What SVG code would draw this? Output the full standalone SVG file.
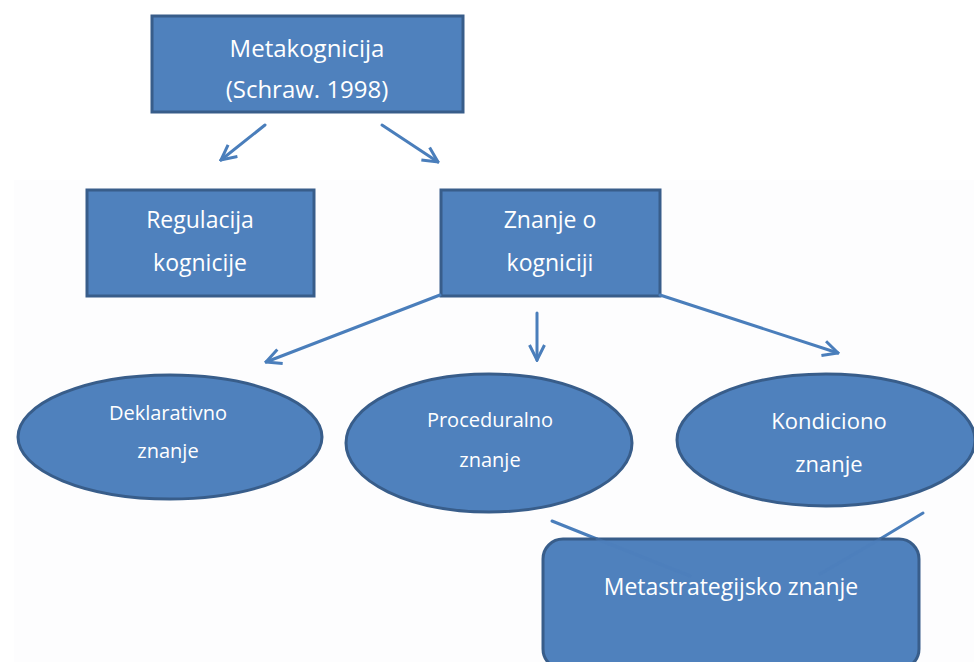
<svg xmlns="http://www.w3.org/2000/svg" width="974" height="662" viewBox="0 0 974 662">
<defs>
<style>
.n{fill:#4F81BD;stroke:#385D8A;stroke-width:3}
.t{fill:#ffffff;font-family:"Open Sans","Noto Sans","Liberation Sans",sans-serif;text-anchor:middle}
.c{stroke:#4A7EBB;stroke-width:3;fill:none;stroke-linecap:round}
</style>
<marker id="ah" viewBox="0 0 12 12" refX="11" refY="6" markerWidth="6" markerHeight="6" orient="auto" markerUnits="strokeWidth">
<path d="M1,1 L11,6 L1,11" fill="none" stroke="#4A7EBB" stroke-width="2"/>
</marker>
</defs>
<rect x="0" y="0" width="974" height="662" fill="#ffffff"/>
<rect x="14" y="180" width="960" height="482" fill="#fdfdfe"/>
<g id="metakognicija">
<rect class="n" x="152" y="16" width="311" height="96"/>
<text class="t" x="307" y="57" font-size="24">Metakognicija</text>
<text class="t" x="307" y="98" font-size="24">(Schraw. 1998)</text>
</g>
<g id="regulacija">
<rect class="n" x="87" y="190" width="227" height="106"/>
<text class="t" x="200" y="228" font-size="23">Regulacija</text>
<text class="t" x="200" y="271" font-size="23">kognicije</text>
</g>
<g id="znanje-o-kogniciji">
<rect class="n" x="441" y="190" width="219" height="106"/>
<text class="t" x="550" y="228" font-size="23">Znanje o</text>
<text class="t" x="550" y="271" font-size="23">kogniciji</text>
</g>
<g id="deklarativno">
<ellipse class="n" cx="170" cy="437" rx="152" ry="62"/>
<text class="t" x="168" y="420" font-size="20">Deklarativno</text>
<text class="t" x="168" y="458" font-size="20">znanje</text>
</g>
<g id="proceduralno">
<ellipse class="n" cx="489" cy="443" rx="143" ry="69"/>
<text class="t" x="490" y="427" font-size="20">Proceduralno</text>
<text class="t" x="490" y="467" font-size="20">znanje</text>
</g>
<g id="kondiciono">
<ellipse class="n" cx="826" cy="440" rx="149" ry="66"/>
<text class="t" x="829" y="429" font-size="22">Kondiciono</text>
<text class="t" x="829" y="472" font-size="22">znanje</text>
</g>
<g id="connectors">
<line class="c" x1="265" y1="125" x2="221" y2="160" marker-end="url(#ah)"/>
<line class="c" x1="382" y1="125" x2="438" y2="162" marker-end="url(#ah)"/>
<line class="c" x1="440" y1="295" x2="266" y2="362" marker-end="url(#ah)"/>
<line class="c" x1="537" y1="313" x2="537" y2="360" marker-end="url(#ah)"/>
<line class="c" x1="660" y1="295" x2="838" y2="353" marker-end="url(#ah)"/>
<line class="c" x1="552" y1="521" x2="597" y2="539"/>
<line class="c" x1="923" y1="513" x2="880" y2="539"/>
</g>
<g id="metastrategijsko">
<rect class="n" x="543" y="539" width="376" height="130" rx="20"/>
<text class="t" x="731" y="595" font-size="23">Metastrategijsko znanje</text>
</g>
<g id="connectors-overlay" opacity="0.4">
<line class="c" x1="597" y1="539" x2="690" y2="576"/>
<line class="c" x1="880" y1="539" x2="820" y2="574"/>
</g>
</svg>
